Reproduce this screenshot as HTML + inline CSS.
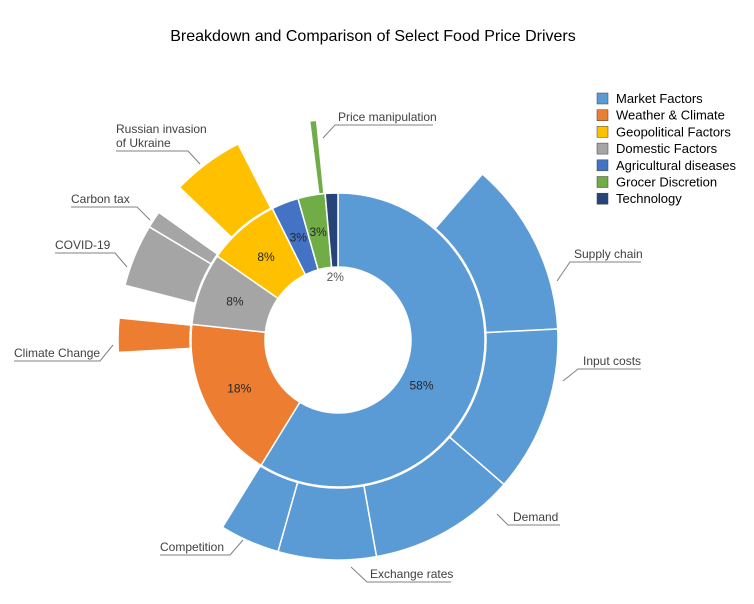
<!DOCTYPE html>
<html><head><meta charset="utf-8">
<style>
body{margin:0;background:#fff;font-family:"Liberation Sans",Arial,sans-serif;}
svg text{font-family:"Liberation Sans",Arial,sans-serif;}
</style></head>
<body>
<svg id="chart" width="754" height="599" viewBox="0 0 754 599" xmlns="http://www.w3.org/2000/svg">
<rect width="754" height="599" fill="#fff"/>
<text x="373" y="41" text-anchor="middle" font-size="16" fill="#000">Breakdown and Comparison of Select Food Price Drivers</text>
<g id="inner"></g>
<g id="outer"></g>
<g id="pcts"></g>
<g font-size="12" fill="#404040" stroke="none">
 <g fill="none" stroke="#808080" stroke-width="1">
  <polyline points="323,138 335,125 433,125"/>
  <polyline points="116,151 188,151 200,164"/>
  <polyline points="71,207 137,207 150,220"/>
  <polyline points="55,253 115,253 127,267"/>
  <polyline points="14,361 100,361 113,345"/>
  <polyline points="160,555 230,555 243,540"/>
  <polyline points="351,567 367,582 451,582"/>
  <polyline points="497,514 508,525 560,525"/>
  <polyline points="557,281 570,262 641,262"/>
  <polyline points="563,381 578,369 641,369"/>
 </g>
 <text x="338" y="121">Price manipulation</text>
 <text x="116" y="133">Russian invasion</text>
 <text x="116" y="147">of Ukraine</text>
 <text x="71" y="203">Carbon tax</text>
 <text x="55" y="249">COVID-19</text>
 <text x="14" y="357">Climate Change</text>
 <text x="160" y="551">Competition</text>
 <text x="370" y="578">Exchange rates</text>
 <text x="513" y="521">Demand</text>
 <text x="574" y="258">Supply chain</text>
 <text x="583" y="365">Input costs</text>
</g>
<g id="legend" font-size="13" fill="#000"></g>
</svg>
<script>
const categories=["Market Factors","Weather & Climate","Geopolitical Factors","Domestic Factors","Agricultural diseases","Grocer Discretion","Technology"];
const innerOrder=["Market Factors","Weather & Climate","Domestic Factors","Geopolitical Factors","Agricultural diseases","Grocer Discretion","Technology"];
const innerValues=[59,18,8,8,3,3,1.4];
const innerLabels=["58%","18%","8%","8%","3%","3%","2%"];
const colors={"Market Factors":"#5B9BD5","Weather & Climate":"#ED7D31","Geopolitical Factors":"#FFC000","Domestic Factors":"#A5A5A5","Agricultural diseases":"#4472C4","Grocer Discretion":"#70AD47","Technology":"#264478"};
const outerNames=["Supply chain","Input costs","Demand","Exchange rates","Competition","Climate Change","COVID-19","Carbon tax","Russian invasion of Ukraine","Price manipulation"];
const outerParents=["Market Factors","Market Factors","Market Factors","Market Factors","Market Factors","Weather & Climate","Domestic Factors","Domestic Factors","Geopolitical Factors","Grocer Discretion"];
const outerStart=[11.4,24.2,36.4,47.2,54.4,74.1,79.0,83.6,87.2,98.0];
const outerValues=[12.8,12.2,10.8,7.2,4.4,2.5,4.6,1.25,5.3,0.4];

const NS="http://www.w3.org/2000/svg";
const cx=338,cy=340,r0=73,r1=147,r2=220;
function ang(p){return p/100*2*Math.PI;}
function pt(a,r){return [cx+r*Math.sin(a),cy-r*Math.cos(a)];}
function arc(a0,a1,ri,ro){
  const large=(a1-a0)>Math.PI?1:0;
  const p1=pt(a0,ro),p2=pt(a1,ro),p3=pt(a1,ri),p4=pt(a0,ri);
  return `M${p1} A${ro},${ro} 0 ${large} 1 ${p2} L${p3} A${ri},${ri} 0 ${large} 0 ${p4} Z`;
}
const total=innerValues.reduce((a,b)=>a+b,0);
const gi=document.getElementById('inner'),gp=document.getElementById('pcts'),go=document.getElementById('outer');
let acc=0;
innerValues.forEach((v,i)=>{
  const a0=ang(acc/total*100),a1=ang((acc+v)/total*100);
  const p=document.createElementNS(NS,'path');
  p.setAttribute('d',arc(a0,a1,r0,r1));
  p.setAttribute('fill',colors[innerOrder[i]]);
  p.setAttribute('stroke','#fff');p.setAttribute('stroke-width','1.5');
  
  
  gi.appendChild(p);
  let mid=(a0+a1)/2;let rr=(r0+r1)/2;
  if(v<2.5)rr=r0-10;
  if(v>40){mid=a0+(a1-a0)*0.56;rr=r0+22;}
  const c=pt(mid,rr);
  const t=document.createElementNS(NS,'text');
  t.setAttribute('x',c[0]);t.setAttribute('y',c[1]+4);
  t.setAttribute('text-anchor','middle');t.setAttribute('font-size','12');
  t.setAttribute('fill',v<2.5?'#595959':'#262626');
  t.textContent=innerLabels[i];
  
  
  gp.appendChild(t);
  acc+=v;
});
outerValues.forEach((v,i)=>{
  const a0=ang(outerStart[i]),a1=ang(outerStart[i]+v);
  const p=document.createElementNS(NS,'path');
  p.setAttribute('d',arc(a0,a1,r1+1,r2));
  p.setAttribute('fill',colors[outerParents[i]]);
  p.setAttribute('stroke','#fff');p.setAttribute('stroke-width',v<1?'0':'1.5');
  
  
  go.appendChild(p);
});
const gl=document.getElementById('legend');
categories.forEach((c,i)=>{
  const y=93+i*16.7;
  const r=document.createElementNS(NS,'rect');
  r.setAttribute('x',597);r.setAttribute('y',y);r.setAttribute('width',11);r.setAttribute('height',11);
  r.setAttribute('fill',colors[c]);r.setAttribute('stroke','#404040');r.setAttribute('stroke-width','0.5');
  
  
  gl.appendChild(r);
  const t=document.createElementNS(NS,'text');
  t.setAttribute('x',616);t.setAttribute('y',y+10);t.textContent=c;
  
  
  gl.appendChild(t);
});
</script>
</body></html>
